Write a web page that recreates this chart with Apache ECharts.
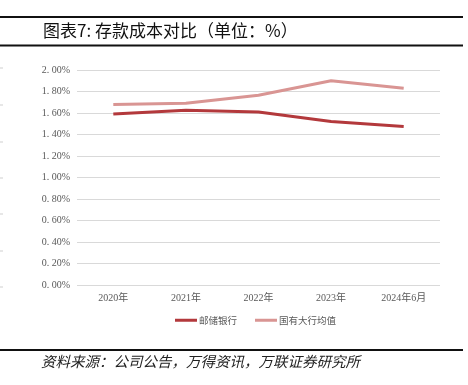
<!DOCTYPE html>
<html><head><meta charset="utf-8">
<script src="https://cdn.jsdelivr.net/npm/echarts@6/dist/echarts.min.js"></script>
<style>html,body{margin:0;padding:0;background:#fff}#c{width:468px;height:385px}</style>
</head><body><div id="c"></div>
<script>
const categories = ['2020年', '2021年', '2022年', '2023年', '2024年6月'];
const psbc = [1.59, 1.625, 1.61, 1.52, 1.475];
const stateAvg = [1.68, 1.69, 1.765, 1.90, 1.83];
const seriesNames = ['邮储银行', '国有大行均值'];
const titleText = '图表7: 存款成本对比（单位：%）';
const sourceText = '资料来源：公司公告，万得资讯，万联证券研究所';

const chart = echarts.init(document.getElementById('c'), null, {renderer: 'canvas'});
const serif = '"Liberation Serif", "Noto Sans CJK SC", serif';
const leftTicks = [68, 105, 142, 178, 214, 251, 287].map(y => ({
  type: 'line', shape: {x1: 0, y1: y, x2: 3, y2: y}, style: {stroke: '#cfcfcf', lineWidth: 1}
}));
chart.setOption({
  animation: false,
  grid: {left: 77, right: 28, top: 70, bottom: 100},
  graphic: [
    {type: 'rect', shape: {x: 0, y: 16, width: 463, height: 2}, style: {fill: '#111'}},
    {type: 'rect', shape: {x: 0, y: 44.5, width: 463, height: 2}, style: {fill: '#111'}},
    {type: 'rect', shape: {x: 0, y: 349, width: 463, height: 2}, style: {fill: '#111'}},
    {type: 'text', left: 43, top: 22, style: {text: titleText, font: '17px "Noto Sans CJK SC"', fill: '#111'}},
    {type: 'text', left: 41, top: 354, style: {text: sourceText, font: 'italic 14.5px "Noto Sans CJK SC"', fill: '#222'}}
  ].concat(leftTicks),
  legend: {
    bottom: 55, left: 170, itemWidth: 22, itemHeight: 3, itemGap: 18,
    icon: 'rect',
    textStyle: {fontFamily: '"Noto Sans CJK SC"', fontSize: 9.5, color: '#595959', padding: [0, 0, 0, -3]},
    data: seriesNames
  },
  xAxis: {
    type: 'category', data: categories, boundaryGap: true,
    axisLine: {show: false}, axisTick: {show: false},
    axisLabel: {fontFamily: serif, fontSize: 10, color: '#595959', margin: 8}
  },
  yAxis: {
    type: 'value', min: 0, max: 2, interval: 0.2,
    axisLine: {show: false}, axisTick: {show: false},
    splitLine: {lineStyle: {color: '#d9d9d9', width: 1}},
    axisLabel: {fontFamily: serif, fontSize: 10, color: '#595959', margin: 7,
      formatter: v => v.toFixed(2).replace('.', '. ') + '%'}
  },
  series: [
    {name: seriesNames[0], type: 'line', data: psbc, symbol: 'none',
     lineStyle: {color: '#b3393c', width: 3}, itemStyle: {color: '#b3393c'}},
    {name: seriesNames[1], type: 'line', data: stateAvg, symbol: 'none',
     lineStyle: {color: '#d99593', width: 3}, itemStyle: {color: '#d99593'}}
  ]
});
</script></body></html>
